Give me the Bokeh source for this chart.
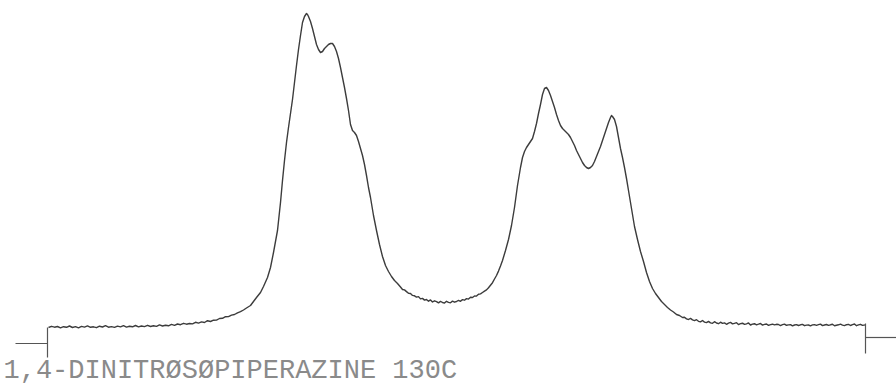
from bokeh.plotting import figure
from bokeh.models import Range1d, Label, ColumnDataSource
from bokeh.embed import file_html
from bokeh.resources import INLINE

# Recorder trace: (sweep position, signal intensity) read along the chart paper
baseline_left = [
    (48, 0.0), (51, 1.2), (54, 0.3), (57, 1.0), (60, -0.4), (63, 0.8), (66, 0.2),
    (69, 1.5), (72, 0.0), (75, 0.9), (78, -0.3), (81, 1.1), (84, 0.4), (87, 1.6),
    (90, 0.2), (93, 0.7), (96, -0.2), (99, 1.3), (102, 0.5), (105, 1.8), (108, 0.3),
    (111, 0.9), (114, 0.1), (117, 1.4), (120, 0.6), (123, 1.9), (126, 0.4), (129, 1.2),
    (132, 0.7), (135, 2.0), (138, 0.6), (141, 1.5), (144, 0.9), (147, 2.2), (150, 1.0),
    (153, 1.8), (156, 1.1), (159, 2.6), (162, 1.5), (165, 2.3), (168, 1.7), (171, 3.1),
    (174, 2.2), (177, 3.5), (180, 2.8), (183, 4.2), (186, 3.3), (189, 4.0), (192, 3.6),
    (195, 5.2), (198, 4.4), (201, 5.6), (204, 5.0), (207, 6.8), (210, 6.0), (213, 7.3),
    (216, 7.4), (219, 9.0), (222, 9.2), (225, 10.8), (228, 10.9), (231, 12.4),
    (234, 13.0), (237, 14.6), (240, 15.8), (243, 17.5), (246, 19.5),
]

band_a = [
    (250, 22), (253, 26), (256, 30), (260, 35), (263, 41), (267, 50), (270, 60),
    (273, 75), (277, 97), (280, 125), (282, 147), (284, 167), (286, 185), (288, 200),
    (290, 214), (292, 228), (294, 245), (296, 262), (298, 278), (300, 292), (302, 305),
    (304, 311), (306, 314), (307, 313), (308, 311), (310, 306), (312, 299), (314, 291),
    (316, 283), (318, 278), (320, 275), (322, 276), (324, 279), (326, 281), (328, 283),
    (330, 284), (332, 284), (334, 281), (336, 276), (338, 269), (340, 260), (342, 250),
    (344, 240), (346, 229), (348, 217), (350, 203), (352, 197), (354, 195), (356, 192),
    (358, 186), (360, 179), (362, 172), (364, 163), (366, 152), (368, 140), (370, 130),
    (373, 112), (376, 97), (379, 83), (382, 71), (385, 62), (388, 56), (391, 51),
    (394, 47), (397, 44),
]

trough = [
    (400, 40.5), (402, 38.0), (404, 37.6), (406, 35.9), (408, 34.2), (410, 34.0),
    (412, 32.1), (414, 31.7), (416, 30.4), (418, 30.9), (420, 28.6), (422, 29.1),
    (424, 27.4), (426, 28.0), (428, 26.3), (430, 27.6), (432, 25.5), (434, 26.7),
    (436, 25.9), (438, 24.6), (440, 26.1), (442, 25.0), (444, 24.4), (446, 26.2),
    (448, 25.1), (450, 24.8), (452, 26.4), (454, 25.3), (456, 26.0), (458, 27.1),
    (460, 26.2), (462, 27.9), (464, 27.3), (466, 28.9), (468, 28.4), (470, 30.2),
    (472, 30.0), (474, 31.5), (476, 31.4), (478, 33.2), (480, 33.6), (482, 35.0),
    (484, 36.4), (486, 37.6), (488, 39.8), (490, 42.3), (492, 44.8), (494, 48.5),
    (496, 52.0), (498, 56.4), (500, 61.5),
]

band_b = [
    (502, 67), (505, 77), (508, 88), (511, 102), (514, 120), (517, 142), (520, 160),
    (522, 170), (524, 176), (526, 180), (528, 183), (530, 186), (532, 189), (534, 196),
    (536, 204), (538, 214), (540, 223), (542, 233), (544, 239), (546, 240), (548, 237),
    (550, 232), (552, 226), (554, 220), (556, 213), (558, 207), (560, 202), (562, 199),
    (564, 197), (566, 195), (568, 193), (570, 190), (572, 186), (574, 182), (576, 177),
    (578, 173), (580, 169), (582, 165), (584, 162), (586, 160), (588, 159), (590, 160),
    (592, 162), (594, 166), (596, 171), (598, 176), (600, 181), (602, 187), (604, 193),
    (606, 199), (608, 205), (610, 210), (611, 212), (612, 211), (614, 208), (616, 201),
    (618, 190), (620, 179), (622, 170), (624, 160), (626, 149), (628, 137), (630, 125),
    (632, 113), (634, 101), (637, 88), (640, 76), (643, 66), (646, 55), (649, 46),
    (652, 39), (655, 34), (658, 30), (661, 26), (664, 23), (667, 20), (670, 17.5),
    (673, 15.5), (676, 13.0), (679, 12.0),
]

baseline_right = [
    (682, 10.0), (684, 10.3), (686, 8.6), (688, 8.0), (690, 9.1), (692, 7.6),
    (694, 6.9), (696, 7.8), (698, 6.2), (700, 5.6), (702, 7.0), (704, 5.4),
    (706, 4.9), (708, 6.1), (710, 4.6), (712, 4.2), (714, 5.8), (716, 4.5),
    (718, 3.8), (720, 5.3), (722, 4.1), (724, 4.6), (726, 3.2), (728, 4.4),
    (730, 5.1), (732, 3.6), (734, 4.2), (736, 4.8), (738, 2.9), (740, 3.9),
    (742, 4.3), (744, 3.1), (746, 3.7), (748, 4.6), (750, 2.5), (752, 3.4),
    (754, 3.8), (756, 2.7), (758, 3.3), (760, 4.0), (762, 2.4), (764, 3.1),
    (766, 3.5), (768, 2.1), (770, 2.9), (772, 3.3), (774, 2.6), (776, 3.2),
    (778, 3.0), (780, 1.9), (782, 2.8), (784, 3.4), (786, 2.2), (788, 2.6),
    (790, 2.8), (792, 1.6), (794, 2.5), (796, 2.9), (798, 2.0), (800, 2.7),
    (802, 3.1), (804, 1.8), (806, 2.4), (808, 2.5), (810, 1.7), (812, 2.6),
    (814, 2.9), (816, 2.2), (818, 2.8), (820, 3.4), (822, 1.9), (824, 2.5),
    (826, 3.0), (828, 2.1), (830, 2.7), (832, 3.2), (834, 1.8), (836, 2.3),
    (838, 2.7), (840, 3.3), (842, 2.4), (844, 1.9), (846, 2.8), (848, 3.1),
    (850, 2.0), (852, 2.9), (854, 3.5), (856, 1.8), (858, 2.6), (860, 3.2),
    (862, 2.1), (865, 2.6),
]

# Sweep start / end brackets drawn by the recorder pen
start_bracket_x = [15, 47, 47, 47]
start_bracket_y = [-16, -16, 0, -30]
end_bracket_x = [865, 865, 865, 896]
end_bracket_y = [4, -26, -10, -10]

caption = "1,4-DINITRØSØPIPERAZINE 130C"

segments = baseline_left + band_a + trough + band_b + baseline_right
shift = [s for s, _ in segments]
intensity = [v for _, v in segments]

p = figure(
    width=896, height=387,
    x_range=Range1d(0, 896), y_range=Range1d(-60, 327),
    x_axis_type=None, y_axis_type=None,
    output_backend="svg", toolbar_location=None,
    min_border=0, outline_line_color=None,
    background_fill_color="white", border_fill_color="white",
)
p.grid.visible = False

ink = "#3c3c3c"

src = ColumnDataSource(dict(x=shift, y=intensity))
p.line("x", "y", source=src, line_color=ink, line_width=1.4, line_join="round")

# brackets: horizontal stub plus vertical tick at each sweep limit
p.segment(x0=[start_bracket_x[0], start_bracket_x[2]], y0=[start_bracket_y[0], start_bracket_y[2]],
          x1=[start_bracket_x[1], start_bracket_x[3]], y1=[start_bracket_y[1], start_bracket_y[3]],
          line_color="#555555", line_width=1.2)
p.segment(x0=[end_bracket_x[0], end_bracket_x[2]], y0=[end_bracket_y[0], end_bracket_y[2]],
          x1=[end_bracket_x[1], end_bracket_x[3]], y1=[end_bracket_y[1], end_bracket_y[3]],
          line_color="#555555", line_width=1.2)

p.add_layout(Label(
    x=3, y=-58, text=caption,
    text_font="Liberation Mono", text_font_size="27px",
    text_color="#8a8a8a", text_baseline="bottom", text_align="left",
))

open("out.html", "w").write(file_html(p, INLINE))
